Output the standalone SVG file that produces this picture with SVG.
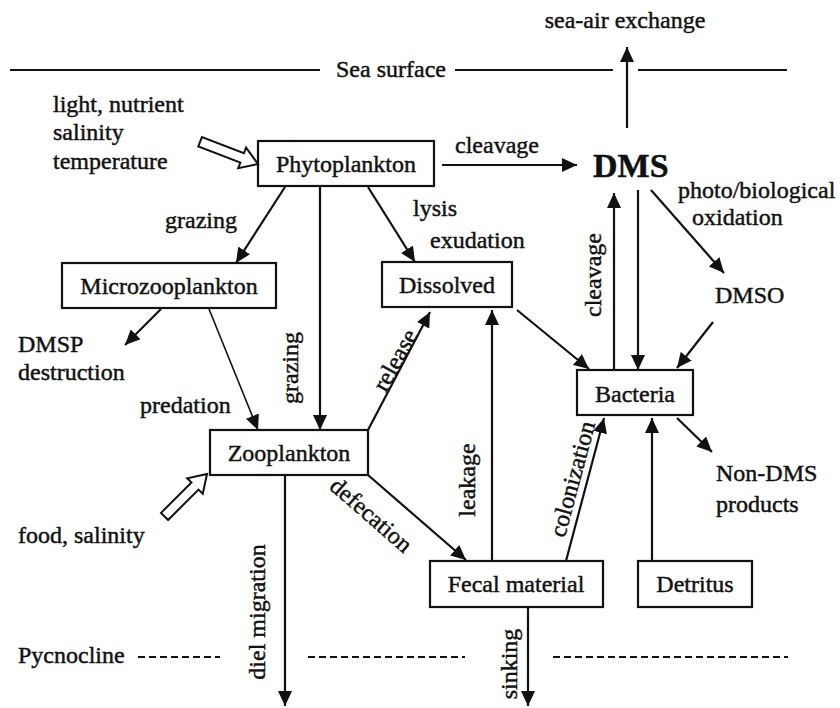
<svg xmlns="http://www.w3.org/2000/svg" width="840" height="708" viewBox="0 0 840 708" font-family="'Liberation Serif', 'Times New Roman', Times, 'DejaVu Serif', serif">
<style>
text{font-family:'Liberation Serif','Times New Roman',Times,'DejaVu Serif',serif;font-size:24px;fill:#111;stroke:#111;stroke-width:0.45px}
.box{fill:#fff;stroke:#111;stroke-width:2.2}
.ln{fill:none;stroke:#111;stroke-width:2.2}
.thin{fill:none;stroke:#111;stroke-width:1.6}
.dash{fill:none;stroke:#111;stroke-width:2;stroke-dasharray:7 4}
.hollow{fill:#fff;stroke:#111;stroke-width:2}
.c{text-anchor:middle}
.big{font-size:34px;font-weight:bold}
</style>
<defs>
<marker id="ah" markerUnits="userSpaceOnUse" markerWidth="16" markerHeight="14" refX="15" refY="7" orient="auto">
<path d="M0,0 L15,7 L0,14 z" fill="#111"/>
</marker>
</defs>
<rect width="840" height="708" fill="#fff"/>

<g id="sea-surface">
<line class="ln" x1="10" y1="70" x2="320" y2="70"/>
<line class="ln" x1="455" y1="70" x2="613" y2="70"/>
<line class="ln" x1="638" y1="70" x2="787" y2="70"/>
<text x="336" y="77">Sea surface</text>
<text x="625" y="28" class="c">sea-air exchange</text>
</g>

<g id="pycnocline">
<text x="18" y="663">Pycnocline</text>
<line class="dash" x1="138" y1="657" x2="220" y2="657"/>
<line class="dash" x1="308" y1="657" x2="465" y2="657"/>
<line class="dash" x1="553" y1="657" x2="788" y2="657"/>
</g>

<g id="phytoplankton">
<rect class="box" x="258" y="141" width="176" height="45"/>
<text x="346" y="172" class="c">Phytoplankton</text>
</g>
<g id="dms">
<text x="593" y="177" class="big">DMS</text>
</g>
<g id="microzooplankton">
<rect class="box" x="62" y="263" width="214" height="45"/>
<text x="169" y="294" class="c">Microzooplankton</text>
</g>
<g id="dissolved">
<rect class="box" x="382" y="262" width="130" height="45"/>
<text x="447" y="293" class="c">Dissolved</text>
</g>
<g id="dmso">
<text x="715" y="303">DMSO</text>
</g>
<g id="dmsp">
<text x="18" y="352">DMSP</text>
<text x="18" y="380">destruction</text>
</g>
<g id="bacteria">
<rect class="box" x="577" y="370" width="116" height="45"/>
<text x="635" y="402" class="c">Bacteria</text>
</g>
<g id="zooplankton">
<rect class="box" x="210" y="430" width="158" height="45"/>
<text x="289" y="461" class="c">Zooplankton</text>
</g>
<g id="non-dms">
<text x="716" y="481">Non-DMS</text>
<text x="716" y="512">products</text>
</g>
<g id="fecal">
<rect class="box" x="430" y="561" width="173" height="46"/>
<text x="516" y="592" class="c">Fecal material</text>
</g>
<g id="detritus">
<rect class="box" x="638" y="561" width="114" height="46"/>
<text x="695" y="592" class="c">Detritus</text>
</g>
<g id="factors-phyto">
<text x="53" y="112">light, nutrient</text>
<text x="53" y="140">salinity</text>
<text x="53" y="169">temperature</text>
<polygon class="hollow" transform="translate(258,164) rotate(21)" points="0,0 -17,-11 -17,-5 -62,-5 -62,5 -17,5 -17,11"/>
</g>
<g id="factors-zoo">
<text x="18" y="543">food, salinity</text>
<polygon class="hollow" transform="translate(207,474) rotate(-45)" points="0,0 -17,-11 -17,-5 -60,-5 -60,5 -17,5 -17,11"/>
</g>

<g id="connectors">
<line class="ln" x1="442" y1="165" x2="577" y2="165" marker-end="url(#ah)"/>
<line class="ln" x1="627" y1="128" x2="627" y2="47" marker-end="url(#ah)"/>
<line class="ln" x1="285" y1="187" x2="236" y2="263" marker-end="url(#ah)"/>
<line class="ln" x1="320" y1="187" x2="320" y2="430" marker-end="url(#ah)"/>
<line class="ln" x1="368" y1="187" x2="415" y2="262" marker-end="url(#ah)"/>
<line class="ln" x1="161" y1="309" x2="125" y2="345" marker-end="url(#ah)"/>
<line class="thin" x1="209" y1="309" x2="258" y2="430" marker-end="url(#ah)"/>
<line class="ln" x1="368" y1="430" x2="430" y2="312" marker-end="url(#ah)"/>
<line class="ln" x1="517" y1="310" x2="589" y2="369" marker-end="url(#ah)"/>
<line class="ln" x1="638" y1="190" x2="638" y2="370" marker-end="url(#ah)"/>
<line class="ln" x1="614" y1="370" x2="614" y2="193" marker-end="url(#ah)"/>
<line class="ln" x1="651" y1="190" x2="724" y2="273" marker-end="url(#ah)"/>
<line class="ln" x1="713" y1="322" x2="677" y2="368" marker-end="url(#ah)"/>
<line class="ln" x1="677" y1="418" x2="712" y2="452" marker-end="url(#ah)"/>
<line class="ln" x1="285" y1="475" x2="285" y2="706" marker-end="url(#ah)"/>
<line class="ln" x1="368" y1="475" x2="466" y2="560" marker-end="url(#ah)"/>
<line class="ln" x1="492" y1="561" x2="492" y2="310" marker-end="url(#ah)"/>
<line class="ln" x1="566" y1="561" x2="604" y2="418" marker-end="url(#ah)"/>
<line class="ln" x1="652" y1="561" x2="652" y2="418" marker-end="url(#ah)"/>
<line class="ln" x1="528" y1="607" x2="528" y2="706" marker-end="url(#ah)"/>

<text x="455" y="153">cleavage</text>
<text x="678" y="198">photo/biological</text>
<text x="692" y="225">oxidation</text>
<text x="165" y="228">grazing</text>
<text x="413" y="216">lysis</text>
<text x="430" y="248">exudation</text>
<text x="140" y="413">predation</text>
<text class="c" transform="translate(298,368) rotate(-90)">grazing</text>
<text class="c" transform="translate(402,364) rotate(-61)">release</text>
<text class="c" transform="translate(601,275) rotate(-90)">cleavage</text>
<text class="c" transform="translate(366,521) rotate(41)">defecation</text>
<text class="c" transform="translate(475,480) rotate(-90)">leakage</text>
<text class="c" transform="translate(580,481) rotate(-75)">colonization</text>
<text class="c" transform="translate(265,612) rotate(-90)">diel migration</text>
<text class="c" transform="translate(517,664) rotate(-90)">sinking</text>
</g>
</svg>
